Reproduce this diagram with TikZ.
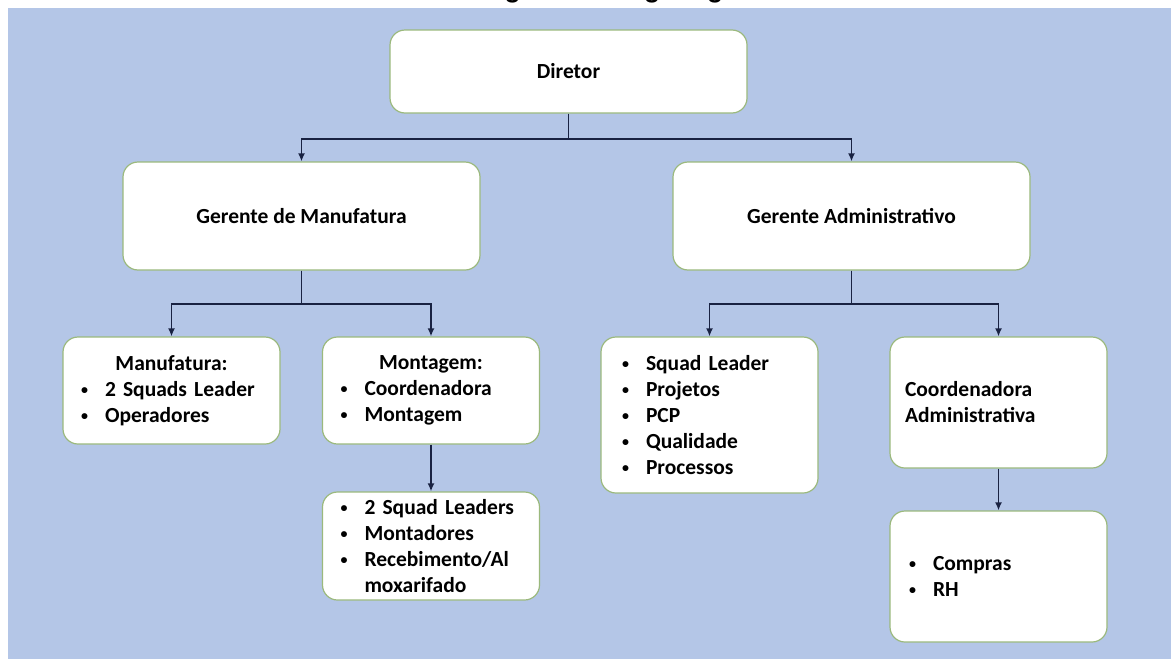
\documentclass[tikz,border=0pt]{standalone}
\usepackage{fontspec}
\setmainfont{Carlito}
\newfontfamily\titlefont{Liberation Sans}
\usetikzlibrary{arrows.meta}
\definecolor{bgblue}{RGB}{180,198,231}
\definecolor{boxline}{RGB}{155,185,125}
\definecolor{connc}{RGB}{25,34,66}
\newcommand{\smbullet}{\raisebox{2.2pt}{\fontsize{14}{14}\selectfont\textbullet}}
\newcommand{\bitem}[1]{\makebox[\linewidth][l]{\makebox[25pt][l]{\hspace*{1pt}\smbullet}#1}}
\newcommand{\bcont}[1]{\makebox[\linewidth][l]{\hspace*{25pt}#1}}
\newcommand{\pline}[1]{\makebox[\linewidth][l]{#1}}
\newcommand{\ctitle}[1]{\makebox[\linewidth][c]{#1}}
\tikzset{
  orgbox/.style={draw=boxline, line width=1.2pt, fill=white, rounded corners=15pt,
    inner xsep=17pt, inner ysep=0pt, text=black,
    font=\fontsize{21.5}{26}\selectfont\bfseries},
  listbox/.style={orgbox},
  connector/.style={draw=connc, line width=1.9pt, -{Latex[length=8pt,width=7pt]}}
}
\begin{document}
\begin{tikzpicture}[x=1pt,y=-1pt]
\useasboundingbox (0,0) rectangle (1171,659);
\fill[white] (0,0) rectangle (1171,659);
\fill[bgblue] (8,8) rectangle (1171,659);
\begin{scope}
  \clip (0,0) rectangle (1171,8);
  \node[anchor=base west, inner sep=0pt, font=\titlefont\bfseries\fontsize{26.4}{30}\selectfont] (title) at (481,-2.2) {Figura 1 – Organograma};
\end{scope}

\node[orgbox, minimum width=357pt, minimum height=83pt] (dir) at (568.5,71.5) {Diretor};
\node[orgbox, minimum width=357pt, minimum height=108pt] (gm) at (301.5,216) {Gerente de Manufatura};
\node[orgbox, minimum width=357pt, minimum height=108pt] (ga) at (851.5,216) {Gerente Administrativo};

\node[listbox, text width=183pt, minimum height=107pt] (manu) at (171.5,390.5)
  {\ctitle{Manufatura:}\\ \bitem{2 Squads Leader}\\ \bitem{Operadores}};
\node[listbox, text width=183pt, minimum height=107pt] (mont) at (431,390.5)
  {\ctitle{Montagem:}\\ \bitem{Coordenadora}\\ \bitem{Montagem}};
\node[listbox, text width=183pt, minimum height=108pt] (sub) at (431,546)
  {\bitem{2 Squad Leaders}\\ \bitem{Montadores}\\ \bitem{Recebimento/Al}\\ \bcont{moxarifado}};
\node[listbox, inner xsep=20pt, text width=177pt, minimum height=156pt] (squad) at (709.5,415)
  {\bitem{Squad Leader}\\ \bitem{Projetos}\\ \bitem{PCP}\\ \bitem{Qualidade}\\ \bitem{Processos}};
\node[listbox, inner xsep=15pt, text width=187pt, minimum height=131pt] (coord) at (998.5,402.5)
  {\pline{Coordenadora}\\ \pline{Administrativa}};
\node[listbox, inner xsep=18pt, text width=181pt, minimum height=131pt] (comp) at (998.5,576.5)
  {\bitem{Compras}\\ \bitem{RH}};

\draw[connector] (dir.south) -- ++(0,25) -| (gm.north);
\draw[connector] (dir.south) -- ++(0,25) -| (ga.north);
\draw[connector] (gm.south) -- ++(0,33) -| (manu.north);
\draw[connector] (gm.south) -- ++(0,33) -| (mont.north);
\draw[connector] (ga.south) -- ++(0,33) -| (squad.north);
\draw[connector] (ga.south) -- ++(0,33) -| (coord.north);
\draw[connector] (mont.south) -- (sub.north);
\draw[connector] (coord.south) -- (comp.north);
\end{tikzpicture}
\end{document}
